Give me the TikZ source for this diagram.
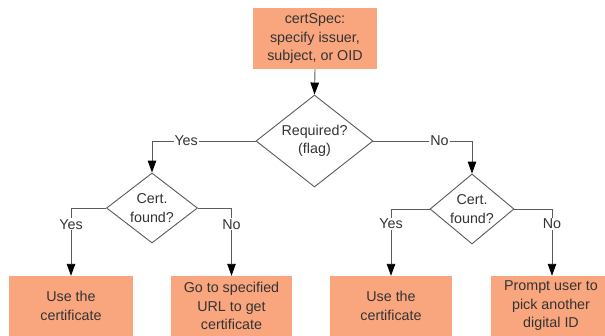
\documentclass[tikz,border=0pt]{standalone}
\usepackage{fontspec}
\setmainfont{Liberation Sans}
\usetikzlibrary{shapes.geometric,arrows.meta}

\definecolor{boxfill}{HTML}{F9A67E}
\definecolor{inkgray}{HTML}{333333}
\definecolor{linegray}{HTML}{5A5A5A}

\begin{document}
\begin{tikzpicture}[x=1pt,y=-1pt,
  every node/.style={font=\fontsize{14.3}{18.5}\selectfont, text=inkgray},
  action/.style={rectangle, fill=boxfill, draw=none, align=center, inner sep=0pt,
                 minimum height=60pt},
  decision/.style={diamond, draw=linegray, line width=0.9pt, fill=white,
                   align=center, inner sep=0pt, aspect=1.3},
  conn/.style={draw=linegray, line width=0.9pt,
               -{Triangle[length=12pt,width=8.5pt,fill=black,color=black]}},
  branch/.style={fill=white, inner sep=1pt}]

  \clip (0,0) rectangle (605,335);
  \fill[white] (0,0) rectangle (605,335);

  % start box
  \node[action, minimum width=124pt, minimum height=61pt] (spec) at (315,38.5)
    {certSpec:\\specify issuer,\\subject, or OID};

  % decisions
  \node[decision, minimum width=117pt, minimum height=92pt] (req) at (314.5,141)
    {Required?\\(flag)};
  \node[decision, minimum width=91pt, minimum height=70pt] (lcert) at (152,208)
    {Cert.\\found?};
  \node[decision, minimum width=84pt, minimum height=70pt] (rcert) at (472,209)
    {Cert.\\found?};

  % outcomes
  \node[action, minimum width=124pt] (useA) at (71,306) {Use the\\certificate};
  \node[action, minimum width=121pt] (url) at (231.5,306)
    {Go to specified\\URL to get\\certificate};
  \node[action, minimum width=122pt] (useB) at (391,306) {Use the\\certificate};
  \node[action, minimum width=120pt] (prompt) at (551,306)
    {Prompt user to\\pick another\\digital ID};

  % connectors
  \draw[conn] (spec.south) -- (req.north);
  \draw[conn] (req.west) -| node[branch, pos=0.335] {Yes} (lcert.north);
  \draw[conn] (req.east) -| node[branch, pos=0.335] {No} (rcert.north);

  \draw[conn] (lcert.west) -| node[branch, pos=0.62] {Yes} (useA.north);
  \draw[conn] (lcert.east) -| node[branch, pos=0.62] {No} (url.north);
  \draw[conn] (rcert.west) -| node[branch, pos=0.61] {Yes} (useB.north);
  \draw[conn] (rcert.east) -| node[branch, pos=0.61] {No} ([xshift=1pt]prompt.north);
\end{tikzpicture}
\end{document}
